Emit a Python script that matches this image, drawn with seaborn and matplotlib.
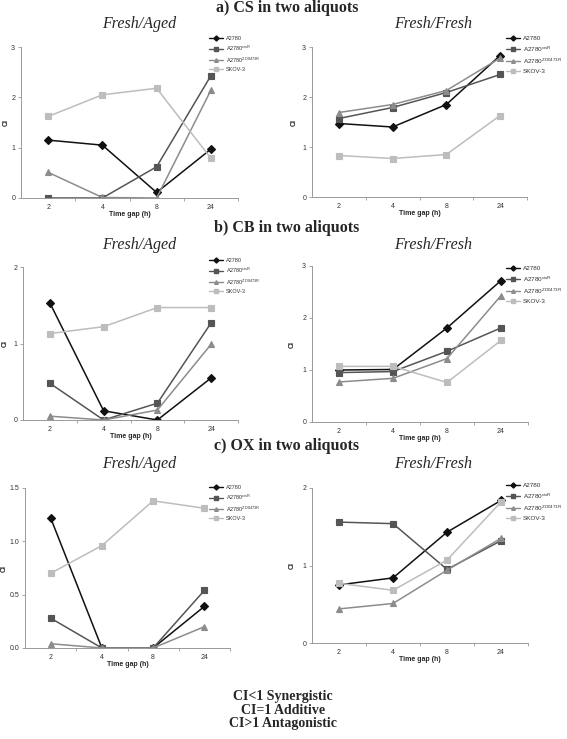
import matplotlib
matplotlib.use('Agg')
import matplotlib.pyplot as plt
from matplotlib.lines import Line2D
import pandas as pd
import seaborn as sns

# x categories and cell lines
TIMES = ['2', '4', '8', '24']
LINES = ['A2780', 'A2780cisR', 'A2780ZD0473R', 'SKOV-3']
LEGEND_LABELS = ['A2780', r'A2780$^{\mathrm{cisR}}$',
                 r'A2780$^{\mathrm{ZD0473R}}$', 'SKOV-3']

# CI values, one row per cell line (same order as LINES)
cs_aged = [[1.15, 1.05, 0.11, 0.97],
           [0.00, 0.00, 0.62, 2.43],
           [0.51, 0.01, 0.00, 2.14],
           [1.62, 2.05, 2.18, 0.79]]
cs_fresh = [[1.47, 1.40, 1.85, 2.83],
            [1.57, 1.79, 2.09, 2.45],
            [1.69, 1.85, 2.13, 2.78],
            [0.83, 0.77, 0.85, 1.63]]
cb_aged = [[1.53, 0.12, 0.00, 0.55],
           [0.48, 0.00, 0.22, 1.27],
           [0.05, 0.00, 0.13, 0.99],
           [1.13, 1.22, 1.47, 1.47]]
cb_fresh = [[1.00, 1.01, 1.81, 2.72],
            [0.95, 0.97, 1.36, 1.81],
            [0.77, 0.84, 1.22, 2.43],
            [1.07, 1.07, 0.76, 1.57]]
ox_aged = [[1.22, 0.00, 0.00, 0.39],
           [0.28, 0.00, 0.00, 0.54],
           [0.04, 0.00, 0.00, 0.20],
           [0.70, 0.96, 1.38, 1.31]]
ox_fresh = [[0.75, 0.84, 1.43, 1.84],
            [1.56, 1.54, 0.95, 1.32],
            [0.44, 0.51, 0.94, 1.35],
            [0.77, 0.68, 1.07, 1.82]]

COLORS = {'A2780': '#111111', 'A2780cisR': '#555555',
          'A2780ZD0473R': '#8c8c8c', 'SKOV-3': '#bdbdbd'}
MARKERS = ['D', 's', '^', 's']

W, H = 567, 739

sns.set_theme(style='ticks')
plt.rcParams['font.family'] = ['Liberation Sans', 'DejaVu Sans']
plt.rcParams['mathtext.fontset'] = 'custom'
plt.rcParams['mathtext.rm'] = 'Liberation Sans'


def to_long(values):
    rows = []
    for line, vals in zip(LINES, values):
        for t, v in zip(TIMES, vals):
            rows.append({'time': t, 'line': line, 'ci': v})
    return pd.DataFrame(rows)


def panel(fig, box, values, ymax, yticks, ylabels, legend_xy, legend_size,
          ylabel_x):
    # box in pixels: x0, y_top, x1, y_bottom
    x0, yt, x1, yb = box
    ax = fig.add_axes([x0 / W, 1 - yb / H, (x1 - x0) / W, (yb - yt) / H])
    sns.pointplot(data=to_long(values), x='time', y='ci', hue='line',
                  order=TIMES, hue_order=LINES, palette=COLORS,
                  markers=MARKERS, linestyles='-', markersize=3.8,
                  linewidth=1.1, errorbar=None, legend=False, ax=ax)
    ax.set_xlim(-0.5, 3.5)
    ax.set_ylim(0, ymax)
    ax.set_yticks(yticks)
    ax.set_yticklabels(ylabels)
    ax.set_xticks(range(len(TIMES)))
    ax.set_xticklabels(TIMES)
    ax.set_xticks([0.5, 1.5, 2.5, 3.5], minor=True)
    ax.tick_params(axis='x', which='major', length=0, pad=4, labelsize=5,
                   labelcolor='#333333')
    ax.tick_params(axis='x', which='minor', length=2.2, width=0.6,
                   color='#999999')
    ax.tick_params(axis='y', length=2.2, width=0.6, color='#999999', pad=2,
                   labelsize=5, labelcolor='#333333')
    for side in ['top', 'right']:
        ax.spines[side].set_visible(False)
    for side in ['left', 'bottom']:
        ax.spines[side].set_color('#999999')
        ax.spines[side].set_linewidth(0.7)
    ax.set_xlabel('Time gap (h)', fontsize=5, fontweight='bold')
    ax.set_ylabel('CI', fontsize=5, fontweight='bold')
    ax.xaxis.set_label_coords(0.5, -13 / (yb - yt))
    ax.yaxis.set_label_coords(-(x0 - ylabel_x) / (x1 - x0), 0.5)
    ax.grid(False)

    handles = [Line2D([], [], color=COLORS[l], marker=m, markersize=2.6,
                      lw=1.0) for l, m in zip(LINES, MARKERS)]
    fig.legend(handles, LEGEND_LABELS, loc='upper left',
               bbox_to_anchor=(legend_xy[0] / W, 1 - legend_xy[1] / H),
               frameon=False, fontsize=legend_size, borderpad=0,
               borderaxespad=0, labelspacing=0.45,
               handlelength=2.6 if legend_size < 4.5 else 2.2,
               handletextpad=0.4, labelcolor='#333333')
    return ax


fig = plt.figure(figsize=(W / 100, H / 100), dpi=100)

int3 = ([0, 1, 2, 3], ['0', '1', '2', '3'])
int2 = ([0, 1, 2], ['0', '1', '2'])
half = ([0, 0.5, 1.0, 1.5], ['0.0', '0.5', '1.0', '1.5'])

panel(fig, (21, 47, 238, 198), cs_aged, 3, *int3, (209, 36), 4, 10)
panel(fig, (312, 47, 527, 197), cs_fresh, 3, *int3, (506, 36), 4.6, 298)
panel(fig, (23, 267, 238, 420), cb_aged, 2, *int2, (209, 258), 4, 9)
panel(fig, (312, 266, 528, 422), cb_fresh, 3, *int3, (506, 266), 4.6, 296)
panel(fig, (25, 488, 230, 648), ox_aged, 1.5, *half, (209, 485), 4, 8)
panel(fig, (312, 488, 528, 643), ox_fresh, 2, *int2, (506, 483), 4.6, 296)

serif = ['Liberation Serif', 'DejaVu Serif']
for y, title in [(8, 'a) CS in two aliquots'), (228, 'b) CB in two aliquots'),
                 (446, 'c) OX in two aliquots')]:
    fig.text(287 / W, 1 - y / H, title, ha='center', va='center',
             fontsize=11.5, fontweight='bold', family=serif)
for y in [24, 245, 464]:
    fig.text(139 / W, 1 - y / H, 'Fresh/Aged', ha='center', va='center',
             fontsize=11.5, style='italic', family=serif)
    fig.text(433 / W, 1 - y / H, 'Fresh/Fresh', ha='center', va='center',
             fontsize=11.5, style='italic', family=serif)

fig.text(283 / W, 1 - 710 / H, 'CI<1 Synergistic\nCI=1 Additive\nCI>1 Antagonistic',
         ha='center', va='center', fontsize=10, fontweight='bold',
         family=serif, linespacing=1.05)

fig.savefig('out.png', dpi=100)
